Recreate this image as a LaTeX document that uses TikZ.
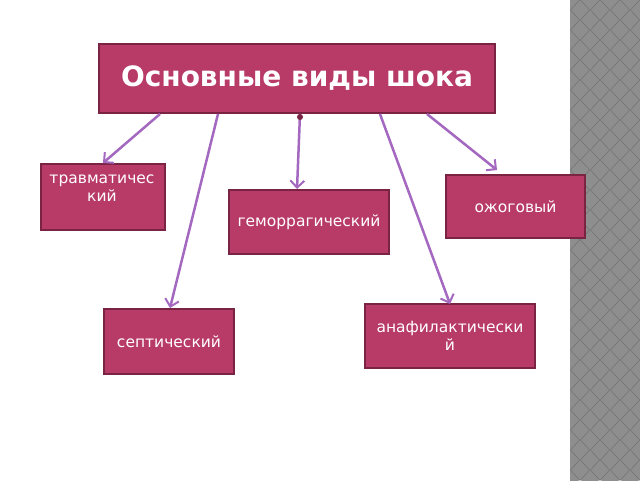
\documentclass[tikz,border=0pt]{standalone}
\usepackage{fontspec}
\setmainfont{DejaVu Sans}
\usetikzlibrary{arrows.meta}
\definecolor{boxf}{HTML}{B83A66}
\definecolor{boxd}{HTML}{7A2343}
\definecolor{arr}{HTML}{A468C0}
\definecolor{chkA}{HTML}{6E6E6E}
\definecolor{chkB}{HTML}{8E8E8E}
\tikzset{
 box/.style={draw=boxd,line width=2pt,fill=boxf,text=white,inner sep=0pt,font=\fontsize{15.5}{18}\selectfont,align=center},
 conn/.style={draw=arr,line width=2.5pt,-{Straight Barb[length=7pt,width=14pt,line width=2pt]}}
}
\begin{document}
\begin{tikzpicture}[x=1pt,y=-1pt]
\useasboundingbox (0,0) rectangle (640,480);
\fill[white] (0,0) rectangle (640,480);
% checkered strip
\fill[chkA] (570,0) rectangle (640,480);
\begin{scope}
\clip (570,0) rectangle (640,480);
\foreach \i in {0,...,4}{\foreach \j in {0,...,25}{
 \fill[chkB] (570+\i*20,\j*20-10) -- ++(9,10) -- ++(-9,10) -- ++(-9,-10) -- cycle;
 \fill[chkB] (580+\i*20,\j*20) -- ++(9,10) -- ++(-9,10) -- ++(-9,-10) -- cycle;
}}
\end{scope}
\node[box,minimum width=396,minimum height=69,font=\fontsize{28}{32}\selectfont\bfseries] (t) at (297,78.5) {Основные виды шока};
\node[box,minimum width=124,minimum height=66,anchor=north west] (a) at (40,163) {};
\node[text=white,font=\fontsize{15.5}{18}\selectfont,align=center,anchor=north] at (102,171) {травматичес\\кий};
\node[box,minimum width=139,minimum height=63] (b) at (515.5,206.5) {ожоговый};
\node[box,minimum width=160,minimum height=64] (c) at (309,222) {геморрагический};
\node[box,minimum width=130,minimum height=65] (d) at (169,341.5) {септический};
\node[box,minimum width=170,minimum height=64] (e) at (450,336) {анафилактически\\й};
\coordinate (a1) at (103,163); \coordinate (d1) at (170,308);
\coordinate (c1) at (297,189); \coordinate (e1) at (450,304); \coordinate (b1) at (497,170);
\draw[conn] (160,114) -- (a1);
\draw[conn] (218,114) -- (d1);
\draw[conn] (300,114) -- (c1);
\draw[conn] (380,114) -- (e1);
\draw[conn] (427,114) -- (b1);
\fill[boxd] (300,117) circle (3);
\end{tikzpicture}
\end{document}
